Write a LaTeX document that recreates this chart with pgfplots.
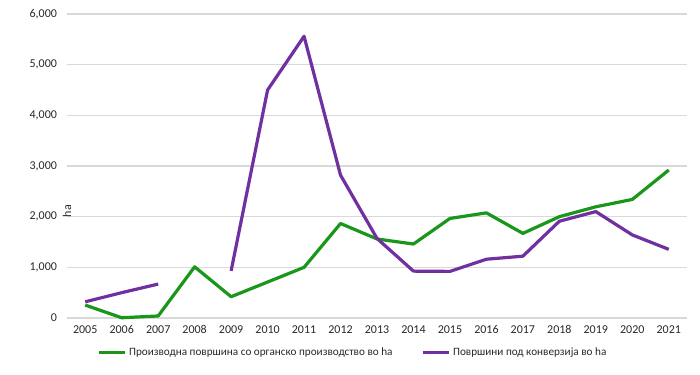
\documentclass[border=0pt]{standalone}
\usepackage{pgfplots}
\pgfplotsset{compat=1.18}
\usepackage{fontspec}
\setmainfont{Carlito}
\definecolor{cgreen}{RGB}{26,150,26}
\definecolor{cpurple}{RGB}{112,48,160}
\definecolor{cgrid}{RGB}{217,217,217}
\definecolor{ctext}{RGB}{40,40,40}
\begin{document}
\begin{tikzpicture}
\useasboundingbox (-50.25pt,-42.75pt) rectangle (474.75pt,238.5pt);
\begin{axis}[
  at={(0,0)}, anchor=south west,
  scale only axis, width=465pt, height=228pt,
  xmin=-0.5, xmax=16.5, ymin=0, ymax=6000,
  xtick={0,...,16},
  xticklabels={2005,2006,2007,2008,2009,2010,2011,2012,2013,2014,2015,2016,2017,2018,2019,2020,2021},
  ytick={0,1000,2000,3000,4000,5000,6000},
  /pgf/number format/assume math mode=true,
  /pgf/number format/1000 sep={,},
  scaled y ticks=false,
  ymajorgrids, grid style={cgrid, line width=0.9pt},
  axis line style={draw=none},
  major tick length=0pt,
  tick label style={font=\fontsize{9}{10}\selectfont, text=ctext},
  yticklabel style={xshift=-4pt},
  xticklabel style={yshift=-2pt},
  ylabel={ha},
  ylabel style={at={(axis description cs:0,0.5)}, anchor=center, xshift=-33.75pt, font=\fontsize{9}{10}\selectfont, text=ctext},
  unbounded coords=jump,
  legend columns=2,
  legend style={at={(0.462,-26pt)}, anchor=center, draw=none, fill=none,
    font=\fontsize{8.4}{10}\selectfont, text=ctext,
    /tikz/every even column/.append style={column sep=20pt}},
  legend image code/.code={\draw[#1, line width=2.4pt] (0pt,0pt) -- (19pt,0pt);},
  clip=false,
]
\addplot[cgreen, line width=2.4pt, line join=round] coordinates {
 (0,255) (1,5) (2,40) (3,1010) (4,420) (5,710) (6,1000) (7,1865) (8,1560)
 (9,1460) (10,1965) (11,2075) (12,1670) (13,2000) (14,2195) (15,2340) (16,2920)};
\addlegendentry{Производна површина со органско производство во ha}
\addplot[cpurple, line width=2.4pt, line join=round] coordinates {
 (0,320) (1,500) (2,670) (3,nan) (4,930) (5,4500) (6,5560) (7,2820) (8,1570)
 (9,925) (10,920) (11,1160) (12,1220) (13,1910) (14,2100) (15,1640) (16,1355)};
\addlegendentry{Површини под конверзија во ha}
\end{axis}
\end{tikzpicture}
\end{document}
